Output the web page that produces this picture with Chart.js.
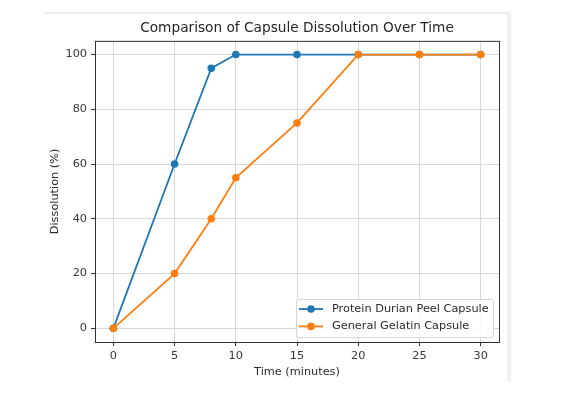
<!DOCTYPE html>
<html lang="en">
<head>
    <meta charset="UTF-8">
    <title>Comparison of Capsule Dissolution Over Time</title>
    <script src="https://cdn.jsdelivr.net/npm/chart.js"></script>
    <style>
        html, body { margin: 0; padding: 0; background: #ffffff; }
        #wrap { position: relative; width: 568px; height: 411px; }
        /* light frame left over from the screenshot */
        .frame-top { position: absolute; left: 43px; top: 12px; width: 468px; height: 2px; background: #eceef2; }
        .frame-right { position: absolute; left: 507px; top: 12px; width: 4px; height: 370px; background: #eef0f4; }
        canvas { position: absolute; left: 0; top: 0; }
    </style>
</head>
<body>
    <div id="wrap">
        <div class="frame-top"></div>
        <div class="frame-right"></div>
        <canvas id="dissolutionChart"></canvas>
    </div>

    <script>
        // Data
        const timePoints = [0, 5, 8, 10, 15, 20, 25, 30];
        const durianPeel = [0, 60, 95, 100, 100, 100, 100, 100];
        const gelatin = [0, 20, 40, 55, 75, 100, 100, 100];
        const xTicks = [0, 5, 10, 15, 20, 25, 30];
        const yTicks = [0, 20, 40, 60, 80, 100];
        const seriesNames = ['Protein Durian Peel Capsule', 'General Gelatin Capsule'];

        const blue = '#1f77b4';
        const orange = '#ff7f0e';

        function toPoints(values) {
            return timePoints.map((t, i) => ({ x: t, y: values[i] }));
        }

        // Draws the axes box on all four sides (matplotlib style)
        const boxPlugin = {
            id: 'box',
            beforeDatasetsDraw(chart) {
                const { ctx, chartArea } = chart;
                ctx.save();
                ctx.strokeStyle = '#333333';
                ctx.lineWidth = 1;
                ctx.strokeRect(chartArea.left + 0.5, chartArea.top + 0.5,
                    chartArea.right - chartArea.left, chartArea.bottom - chartArea.top);
                ctx.restore();
            }
        };

        // Legend in the lower right corner, line + marker like matplotlib
        const legendPlugin = {
            id: 'mplLegend',
            afterDraw(chart) {
                const { ctx, chartArea } = chart;
                const boxW = 197, boxH = 38;
                const x0 = chartArea.right - 6 - boxW;
                const y0 = chartArea.bottom - 5 - boxH;
                ctx.save();
                ctx.fillStyle = 'rgba(255,255,255,0.85)';
                ctx.strokeStyle = '#d6d6d6';
                ctx.lineWidth = 1;
                ctx.beginPath();
                ctx.roundRect(x0 + 0.5, y0 + 0.5, boxW, boxH, 2);
                ctx.fill();
                ctx.stroke();

                ctx.font = '11.3px "DejaVu Sans"';
                ctx.textBaseline = 'middle';
                seriesNames.forEach((name, i) => {
                    const ds = chart.data.datasets.find(d => d.label === name);
                    const cy = y0 + 10 + i * 17.4;
                    ctx.strokeStyle = ds.borderColor;
                    ctx.lineWidth = 1.8;
                    ctx.beginPath();
                    ctx.moveTo(x0 + 3, cy);
                    ctx.lineTo(x0 + 27, cy);
                    ctx.stroke();
                    ctx.fillStyle = ds.borderColor;
                    ctx.beginPath();
                    ctx.arc(x0 + 15, cy, 3.8, 0, Math.PI * 2);
                    ctx.fill();
                    ctx.fillStyle = '#2b2b2b';
                    ctx.fillText(name, x0 + 36, cy);
                });
                ctx.restore();
            }
        };

        Chart.defaults.font.family = '"DejaVu Sans", sans-serif';
        Chart.defaults.color = '#383838';

        const ctx = document.getElementById('dissolutionChart').getContext('2d');
        new Chart(ctx, {
            type: 'line',
            data: {
                datasets: [{
                    label: seriesNames[0],
                    data: toPoints(durianPeel),
                    borderColor: blue,
                    backgroundColor: blue,
                    borderWidth: 1.8,
                    pointRadius: 3.8,
                    pointBorderWidth: 0,
                    tension: 0,
                    order: 1
                }, {
                    label: seriesNames[1],
                    data: toPoints(gelatin),
                    borderColor: orange,
                    backgroundColor: orange,
                    borderWidth: 1.8,
                    pointRadius: 3.8,
                    pointBorderWidth: 0,
                    tension: 0,
                    order: 0
                }]
            },
            options: {
                responsive: true,
                maintainAspectRatio: false,
                animation: false,
                layout: { padding: { left: 44.4, right: 69, top: 12, bottom: 28.4 } },
                plugins: {
                    legend: { display: false },
                    tooltip: { enabled: false },
                    title: {
                        display: true,
                        text: 'Comparison of Capsule Dissolution Over Time',
                        fullSize: false,
                        color: '#262626',
                        font: { size: 13.7, weight: 'normal' },
                        padding: { top: 8, bottom: 4.4 }
                    }
                },
                scales: {
                    x: {
                        type: 'linear',
                        min: -1.5,
                        max: 31.5,
                        afterBuildTicks: scale => { scale.ticks = xTicks.map(v => ({ value: v })); },
                        afterFit: scale => { scale.height = 40.6; },
                        border: { display: false },
                        grid: { color: '#d8d8d8', lineWidth: 1, tickColor: '#333333', tickLength: 4 },
                        ticks: { font: { size: 11.3 }, padding: 3, maxRotation: 0 },
                        title: { display: true, text: 'Time (minutes)', font: { size: 11.3 }, color: '#2b2b2b' }
                    },
                    y: {
                        min: -5,
                        max: 105,
                        afterBuildTicks: scale => { scale.ticks = yTicks.map(v => ({ value: v })); },
                        afterFit: scale => { scale.width = 50.6; },
                        border: { display: false },
                        grid: { color: '#d8d8d8', lineWidth: 1, tickColor: '#333333', tickLength: 4 },
                        ticks: { font: { size: 11.3 }, padding: 4 },
                        title: { display: true, text: 'Dissolution (%)', font: { size: 11.3 }, color: '#2b2b2b' }
                    }
                }
            },
            plugins: [boxPlugin, legendPlugin]
        });
    </script>
</body>
</html>
